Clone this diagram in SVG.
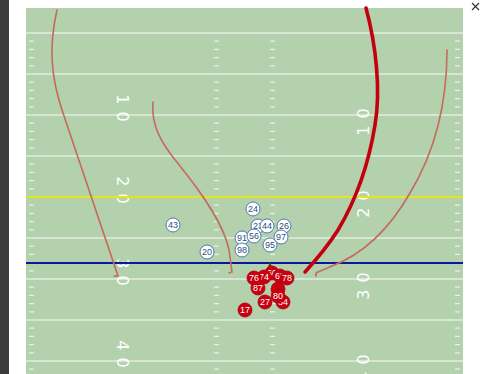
<svg xmlns="http://www.w3.org/2000/svg" xmlns:xlink="http://www.w3.org/1999/xlink" width="480" height="374" viewBox="0 0 480 374">
<style>
.yl{stroke:#e2ede0;stroke-width:1.6}
.hs{stroke:#e8f1e6;stroke-width:1.3}
.num{font-family:"DejaVu Sans","Liberation Sans",sans-serif;font-weight:normal;font-size:16px;fill:#ffffff;letter-spacing:7px}
.rt{fill:none;stroke:#c56a5d;stroke-width:1.6;stroke-linecap:round}
.rt2{fill:none;stroke:#c4000f;stroke-width:3.6;stroke-linecap:round}
.d circle{fill:#fff;stroke:#4d78ad;stroke-width:1}
.d text{font-family:"Liberation Sans",Arial,sans-serif;font-size:9px;fill:#2d4f80;text-anchor:middle}
.o circle{fill:#c8000f;stroke:#b0000c;stroke-width:0.8}
.o text{font-family:"Liberation Sans",Arial,sans-serif;font-size:9px;fill:#fff;text-anchor:middle}
</style>
<defs>
<g id="hb">
<path class="hs" d="M29,8.2h5M29,16.4h5M29,24.6h5M29,32.8h5M214,8.2h5M214,16.4h5M214,24.6h5M214,32.8h5M270,8.2h5M270,16.4h5M270,24.6h5M270,32.8h5M455,8.2h5M455,16.4h5M455,24.6h5M455,32.8h5"/>
</g>
</defs>
<rect x="0" y="0" width="480" height="374" fill="#ffffff"/>
<rect x="0" y="0" width="9" height="374" fill="#3b3b3b"/>
<path d="M472,3l7,7M479,3l-7,7" stroke="#333" stroke-width="1.2"/>
<g id="field">
<rect x="26" y="8" width="437" height="366" fill="#b3d1ac"/>
<path class="yl" d="M26,33H463M26,74H463M26,115H463M26,156H463M26,238H463M26,279H463M26,320H463M26,361H463"/>
<use xlink:href="#hb" y="33"/>
<use xlink:href="#hb" y="74"/>
<use xlink:href="#hb" y="115"/>
<use xlink:href="#hb" y="156"/>
<use xlink:href="#hb" y="197"/>
<use xlink:href="#hb" y="238"/>
<use xlink:href="#hb" y="279"/>
<use xlink:href="#hb" y="320"/>
<path class="hs" d="M29,369.2h5M214,369.2h5M270,369.2h5M455,369.2h5"/>
<text class="num" transform="translate(117,111.5) rotate(90)" text-anchor="middle">10</text>
<text class="num" transform="translate(117,193.5) rotate(90)" text-anchor="middle">20</text>
<text class="num" transform="translate(117,275.5) rotate(90)" text-anchor="middle">30</text>
<text class="num" transform="translate(117,357.5) rotate(90)" text-anchor="middle">40</text>
<text class="num" transform="translate(369,118.5) rotate(-90)" text-anchor="middle">10</text>
<text class="num" transform="translate(369,200.5) rotate(-90)" text-anchor="middle">20</text>
<text class="num" transform="translate(369,282.5) rotate(-90)" text-anchor="middle">30</text>
<text class="num" transform="translate(369,364.5) rotate(-90)" text-anchor="middle">40</text>
<path d="M26,197H463" stroke="#e3e61e" stroke-width="2"/>
<path d="M26,263H463" stroke="#0a18a0" stroke-width="2"/>
</g>
<g id="connectors">
<path class="rt" d="M57,10C49,45 50,75 63,113L118,276l-4,0"/>
<path class="rt" d="M153,102C151,125 160,142 180,166C204,196 224,225 229,250L232,272l-3,1"/>
<path class="rt" d="M447,50C447,100 436,150 410,193C390,228 366,253 332,266L318,272q-3,1 -2,4"/>
<path class="rt2" d="M366,8C376,45 381,90 375,125C369,162 356,200 338,230C326,249 315,261 305,272"/>
</g>
<g id="defense" class="d">
<g id="p24"><circle cx="253" cy="209" r="7"/><text x="253" y="212.2">24</text></g>
<g id="p43"><circle cx="173" cy="225" r="7"/><text x="173" y="228.2">43</text></g>
<g id="p23"><circle cx="258" cy="226" r="7"/><text x="258" y="229.2">23</text></g>
<g id="p44"><circle cx="267" cy="226" r="7"/><text x="267" y="229.2">44</text></g>
<g id="p26"><circle cx="284" cy="226" r="7"/><text x="284" y="229.2">26</text></g>
<g id="p91"><circle cx="242" cy="238" r="7"/><text x="242" y="241.2">91</text></g>
<g id="p56"><circle cx="254" cy="236" r="7"/><text x="254" y="239.2">56</text></g>
<g id="p97"><circle cx="281" cy="237" r="7"/><text x="281" y="240.2">97</text></g>
<g id="p95"><circle cx="270" cy="245" r="7"/><text x="270" y="248.2">95</text></g>
<g id="p98"><circle cx="242" cy="250" r="7"/><text x="242" y="253.2">98</text></g>
<g id="p20"><circle cx="207" cy="252" r="7"/><text x="207" y="255.2">20</text></g>
</g>
<g id="ball"><path d="M267,269L270,262L273,269Z" fill="#7a3a16"/></g>
<g id="offense" class="o">
<g id="p60"><circle cx="272" cy="273" r="7"/><text x="272" y="276.2">60</text></g>
<g id="p65"><circle cx="280" cy="276" r="7"/><text x="280" y="279.2">65</text></g>
<g id="p78"><circle cx="287" cy="278" r="7"/><text x="287" y="281.2">78</text></g>
<g id="p74"><circle cx="264" cy="277" r="7"/><text x="264" y="280.2">74</text></g>
<g id="p76"><circle cx="254" cy="278" r="7"/><text x="254" y="281.2">76</text></g>
<g id="p87"><circle cx="258" cy="288" r="7"/><text x="258" y="291.2">87</text></g>
<g id="p34"><circle cx="283" cy="302" r="7"/><text x="283" y="305.2">34</text></g>
<g id="pX"><circle cx="278" cy="289" r="7"/></g>
<g id="p80"><circle cx="278" cy="296" r="7"/><text x="278" y="299.2">80</text></g>
<g id="p27"><circle cx="265" cy="302" r="7"/><text x="265" y="305.2">27</text></g>
<g id="p17"><circle cx="245" cy="310" r="7"/><text x="245" y="313.2">17</text></g>
</g>
</svg>
